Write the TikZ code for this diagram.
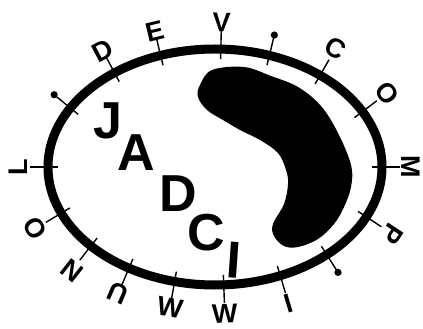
\documentclass[tikz,border=0pt]{standalone}
\usepackage{fontspec}
\setmainfont{Liberation Sans}
\usetikzlibrary{calc}

\tikzset{
  genelbl/.style={font=\bfseries\fontsize{27}{27}\selectfont, inner sep=0pt},
  biglbl/.style={font=\bfseries\fontsize{52}{52}\selectfont, inner sep=0pt},
  tickline/.style={line width=1.4pt},
}
\newcommand{\ea}{167}
\newcommand{\eb}{118}

% tick on the ring: [extra turn]{angle}{name}{text}{distance}
\newcommand{\genemark}[5][0]{%
  \pgfmathsetmacro{\nrm}{atan2(\ea*sin(#2),\eb*cos(#2))}
  \coordinate (#3) at ({\ea*cos(#2)},{\eb*sin(#2)});
  \draw[tickline] ($(#3)+(\nrm:-10)$) -- ($(#3)+(\nrm:18)$);
  \node[genelbl,rotate=\nrm-90+#1] (#3-l) at ($(#3)+(\nrm:#5)$) {#4};
}
% tick with a dot on the end
\newcommand{\dotmark}[2]{%
  \pgfmathsetmacro{\nrm}{atan2(\ea*sin(#1),\eb*cos(#1))}
  \coordinate (#2) at ({\ea*cos(#1)},{\eb*sin(#1)});
  \draw[tickline] ($(#2)+(\nrm:-10)$) -- ($(#2)+(\nrm:19)$);
  \fill ($(#2)+(\nrm:21)$) circle (3.6);
}

\begin{document}
\begin{tikzpicture}[x=1pt,y=1pt]
  \useasboundingbox (-215,-162) rectangle (208,167);

  % ring
  \draw[line width=9pt] (0,0) ellipse [x radius=\ea, y radius=\eb];

  % black body inside
  \fill[tension=0.6] plot[smooth cycle] coordinates {
    (-3,97) (29,100) (56,91) (83,80) (106,61) (123,34) (136,2)
    (136,-20) (129,-40) (119,-57) (103,-72) (83,-80) (69,-79)
    (59,-69) (58,-57) (69,-37) (73,-17) (71,-3) (63,14) (45,27)
    (25,37) (8,47) (-8,57) (-17,70) (-15,82)};

  % marks round the ring
  \genemark{0}{m}{M}{29}
  \genemark{28}{o1}{O}{31}
  \genemark{51}{c}{C}{31}
  \dotmark{71}{p1}
  \genemark{88}{v}{V}{27}
  \genemark{109}{e}{E}{25}
  \genemark{127}{d}{D}{25}
  \dotmark{150}{p2}
  \genemark{180}{l}{L}{30}
  \genemark{203}{o2}{O}{30}
  \genemark{222}{n}{N}{31}
  \genemark{239}{u}{U}{27}
  \genemark[180]{256}{w1}{W}{26}
  \genemark[180]{273}{w2}{W}{29}
  \genemark{293}{i}{I}{29}
  \dotmark{312}{p3}
  \genemark{335}{p}{P}{31}

  % big letters
  \node[biglbl] (bJ) at (-107,46) {J};
  \node[biglbl] (bA) at (-79,14) {A};
  \node[biglbl] (bD) at (-37,-27) {D};
  \node[biglbl] (bC) at (-9,-66) {C};
  \node[biglbl,rotate=-4] (bI) at (19,-93) {I};
\end{tikzpicture}
\end{document}
